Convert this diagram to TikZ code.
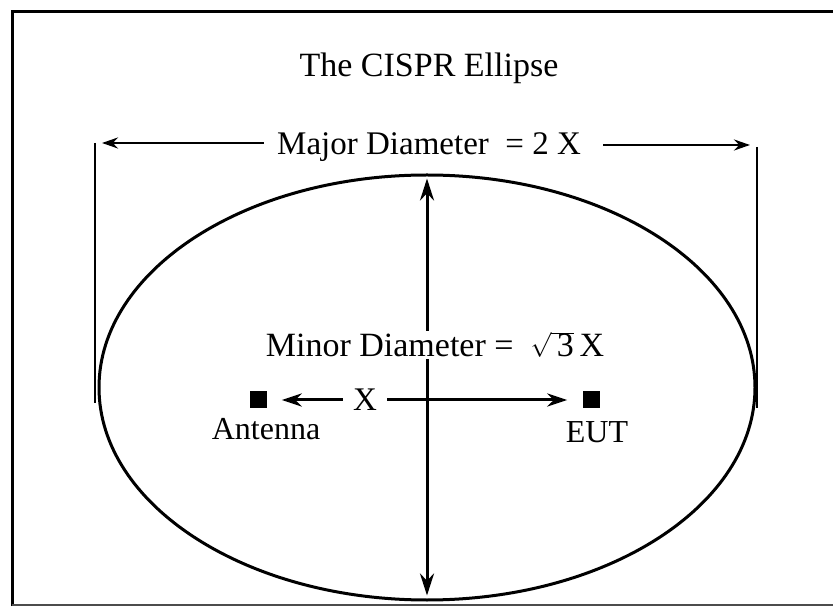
\documentclass[tikz,border=0pt]{standalone}
\usepackage{fontspec}
\setmainfont{Liberation Serif}
\usetikzlibrary{arrows.meta,shapes.geometric}

\begin{document}
\begin{tikzpicture}[x=1pt,y=-1pt,
    lbl/.style={font=\fontsize{32}{36}\selectfont,inner sep=2pt,anchor=base},
    sqr/.style={fill=black,minimum size=17pt,inner sep=0pt},
    arr/.style={-{Stealth[length=16pt,width=11pt]},line width=2.5pt},
    bigarr/.style={{Stealth[length=22pt,width=14pt]}-{Stealth[length=22pt,width=14pt]},line width=3pt},
    extline/.style={line width=1.2pt}]
    \useasboundingbox (0,0) rectangle (833,609);
    \clip (0,0) rectangle (833,609);
    \fill[white] (0,0) rectangle (833,609);
    % frame
    \draw[line width=3pt] (12,606) -- (12,12) -- (840,12);
    \draw[line width=2.5pt,black!70] (12,605) -- (840,605);
    \node[lbl,font=\fontsize{34}{40}\selectfont] (title) at (429,77) {The CISPR Ellipse};
    % major diameter
    \node[lbl,font=\fontsize{33}{38}\selectfont] (major) at (429,155) {Major Diameter \ = 2 X};
    \coordinate (majL) at (102,143);
    \coordinate (majR) at (750,145);
    \draw[arr,shorten <=11pt] (major.west |- majL) -- (majL);
    \draw[arr,shorten <=20pt] (major.east |- majR) -- (majR);
    \draw[extline] (95,143) -- (95,403);
    \draw[extline] (757,147) -- (757,408);
    % ellipse and minor diameter
    \node[draw,ellipse,line width=3pt,minimum width=656pt,minimum height=425pt,inner sep=0pt] (cispr) at (427,387.5) {};
    \draw[bigarr,shorten <=5pt,shorten >=6pt] (cispr.north) -- (cispr.south);
    \node[lbl,font=\fontsize{34}{38}\selectfont,fill=white,inner sep=1pt] (minor) at (435,357) {Minor Diameter = \ $\sqrt{\mbox{\,3}}$\,X};
    % antenna and EUT
    \node[sqr] (ant) at (258,400) {};
    \node[sqr] (eut) at (591,400) {};
    \node[lbl,font=\fontsize{33}{38}\selectfont,anchor=center,inner sep=10pt] (xdist) at (365,400) {X};
    \draw[arr,line width=3pt,-{Stealth[length=20pt,width=13pt]},shorten >=15pt] (xdist) -- (ant);
    \draw[arr,line width=3pt,-{Stealth[length=20pt,width=13pt]},shorten >=15pt] (xdist) -- (eut);
    \node[lbl] (antlbl) at (266,440) {Antenna};
    \node[lbl] (eutlbl) at (597,443) {EUT};
\end{tikzpicture}
\end{document}
